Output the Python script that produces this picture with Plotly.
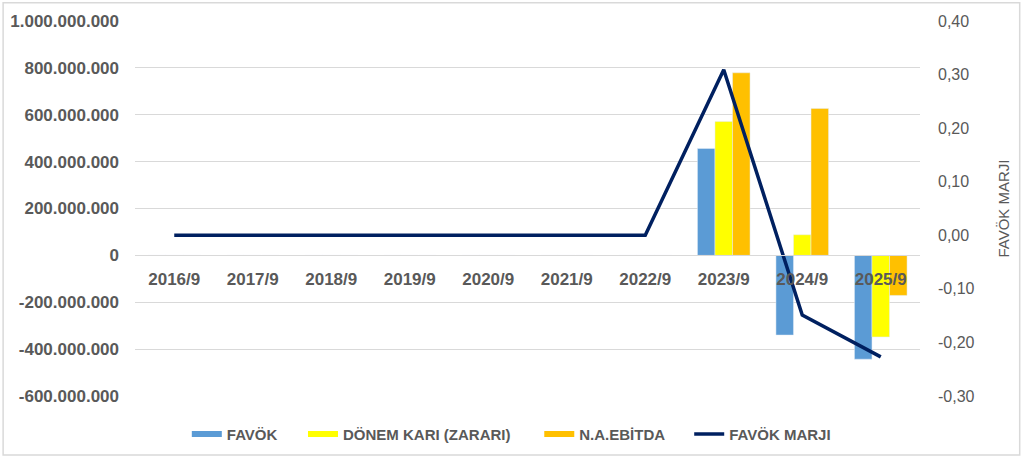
import plotly.graph_objects as go

categories = ['2016/9', '2017/9', '2018/9', '2019/9', '2020/9',
              '2021/9', '2022/9', '2023/9', '2024/9', '2025/9']
favok = [0, 0, 0, 0, 0, 0, 0, 456000000, -340000000, -443000000]
donem_kari = [0, 0, 0, 0, 0, 0, 0, 571000000, 88000000, -348000000]
na_ebitda = [0, 0, 0, 0, 0, 0, 0, 779000000, 627000000, -171000000]
favok_marji = [0, 0, 0, 0, 0, 0, 0, 0.309, -0.149, -0.227]

left_ticks = list(range(-600000000, 1000000001, 200000000))
left_labels = ['{:,}'.format(v).replace(',', '.') for v in left_ticks]
right_ticks = [-0.3, -0.2, -0.1, 0.0, 0.1, 0.2, 0.3, 0.4]
right_labels = ['{:.2f}'.format(v).replace('.', ',') for v in right_ticks]

FONT = 'Liberation Sans, Arial'
GREY = '#595959'

bar_series = [
    ('FAVÖK', favok, '#5B9BD5', 'legend'),
    ('DÖNEM KARI (ZARARI)', donem_kari, '#FFFF00', 'legend2'),
    ('N.A.EBİTDA', na_ebitda, '#FFC000', 'legend3'),
]

fig = go.Figure()
for name, values, color, leg in bar_series:
    fig.add_trace(go.Bar(x=categories, y=values, name=name, marker_color=color,
                         legendgroup=name, showlegend=False))
    # flat swatch for the legend, like the Excel one
    fig.add_trace(go.Scatter(x=[None], y=[None], name=name, mode='lines', legend=leg,
                             legendgroup=name, line=dict(color=color, width=6)))
fig.add_trace(go.Scatter(x=categories, y=favok_marji, name='FAVÖK MARJI', yaxis='y2',
                         legend='legend4', mode='lines',
                         line=dict(color='#002060', width=3.5)))


def legend_at(x):
    return dict(orientation='h', x=x, xanchor='left', y=-0.058, yanchor='top',
                font=dict(size=15, color=GREY, weight='bold'), itemwidth=30)


fig.update_layout(
    width=1024, height=459,
    margin=dict(l=135, r=104, t=21, b=63, autoexpand=False),
    paper_bgcolor='white', plot_bgcolor='white',
    font=dict(family=FONT, color=GREY, size=15),
    barmode='group', bargap=0.33, bargroupgap=0,
    showlegend=True,
    legend=legend_at(0.066),
    legend2=legend_at(0.214),
    legend3=legend_at(0.515),
    legend4=legend_at(0.706),
    xaxis=dict(anchor='free', position=600 / 1600, showline=True, linecolor='#D9D9D9',
               linewidth=1, ticks='', showgrid=False, automargin=False,
               ticklabelstandoff=8,
               tickfont=dict(size=17, color=GREY, weight='bold'),
               layer='above traces'),
    yaxis=dict(range=[-600000000, 1000000000], tickvals=left_ticks, ticktext=left_labels,
               showgrid=True, gridcolor='#D9D9D9', gridwidth=1, zeroline=False,
               ticks='', ticklabelstandoff=15, automargin=False,
               tickfont=dict(size=17, color=GREY, weight='bold')),
    yaxis2=dict(range=[-0.3, 0.4], tickvals=right_ticks, ticktext=right_labels,
                overlaying='y', side='right', showgrid=False, zeroline=False,
                ticks='', ticklabelstandoff=17, automargin=False,
                tickfont=dict(size=16, color=GREY),
                title=dict(text='FAVÖK MARJI', font=dict(size=15, color=GREY), standoff=24)),
    shapes=[dict(type='rect', xref='paper', yref='paper',
                 x0=-0.168, x1=1.127, y0=-0.157, y1=1.049,
                 line=dict(color='#D9D9D9', width=1.5), layer='below')],
)

fig.write_html('out.html', config={'displayModeBar': False},
               post_script="document.body.style.margin='0';")
